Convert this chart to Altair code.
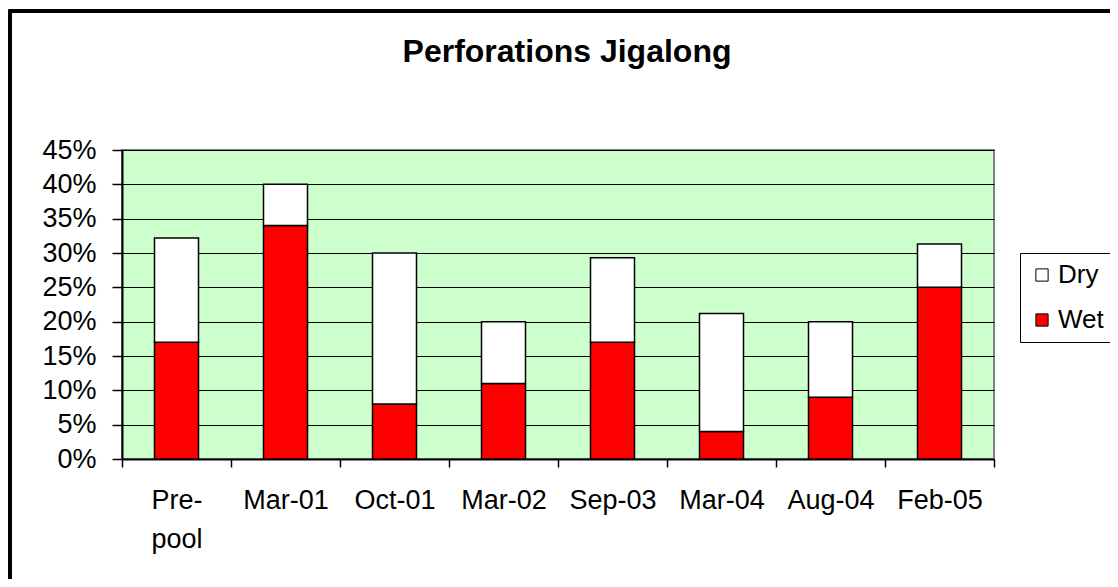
import altair as alt
import pandas as pd

categories = ["Pre-pool", "Mar-01", "Oct-01", "Mar-02", "Sep-03", "Mar-04", "Aug-04", "Feb-05"]
wet = [17, 34, 8, 11, 17, 4, 9, 25]
dry = [15.2, 6, 22, 9, 12.3, 17.2, 11, 6.3]
y_ticks = [0, 5, 10, 15, 20, 25, 30, 35, 40, 45]

rows = []
for c, w, d in zip(categories, wet, dry):
    rows.append({"cat": c, "series": "Wet", "value": w, "ord": 0})
    rows.append({"cat": c, "series": "Dry", "value": d, "ord": 1})
df = pd.DataFrame(rows)

FONT = "Liberation Sans"

bars = alt.Chart(df).mark_bar(size=44, stroke="black", strokeWidth=1.5).encode(
    x=alt.X("cat:N", sort=categories, title=None,
            scale=alt.Scale(paddingInner=0, paddingOuter=0),
            axis=alt.Axis(labelAngle=0, labelFontSize=27, labelFont=FONT, labelColor="black",
                          tickBand="extent", tickSize=8, tickColor="black", tickWidth=1.5,
                          domainColor="black", domainWidth=2, labelPadding=20,
                          labelLineHeight=39, labelBaseline="top",
                          labelExpr="datum.value == 'Pre-pool' ? ['Pre-', 'pool'] : datum.value")),
    y=alt.Y("value:Q", stack="zero", title=None,
            scale=alt.Scale(domain=[0, 45], nice=False),
            axis=alt.Axis(values=y_ticks, labelExpr="datum.value + '%'", labelFontSize=27,
                          labelFont=FONT, labelColor="black", tickSize=10, tickColor="black",
                          tickWidth=1.5, domainColor="black", domainWidth=2, labelPadding=16,
                          grid=True, gridColor="black", gridWidth=1.2, gridOpacity=1)),
    color=alt.Color("series:N", scale=alt.Scale(domain=["Dry", "Wet"], range=["#FFFFFF", "#FF0000"]),
                    legend=alt.Legend(title=None, orient="none", legendX=898, legendY=103,
                                      strokeColor="black", fillColor="white", padding=9,
                                      labelFontSize=26, labelFont=FONT, labelColor="black",
                                      symbolType="square", symbolSize=150, symbolStrokeColor="black",
                                      symbolStrokeWidth=1, rowPadding=19, labelOffset=3)),
    order=alt.Order("ord:Q"),
)

frame = alt.Chart(df).mark_rect(fill=None, stroke="black", strokeWidth=2.5, clip=False).encode(
    x=alt.value(-112), x2=alt.value(1200), y=alt.value(-139), y2=alt.value(600)
)

chart = alt.layer(frame, bars).properties(
    width=872, height=309,
    title=alt.TitleParams("Perforations Jigalong", fontSize=32, font=FONT, fontWeight="bold",
                          color="black", anchor="middle", baseline="alphabetic", offset=-84, dx=9,
                          frame="group"),
    autosize=alt.AutoSizeParams(type="none"),
    padding={"left": 114, "top": 142, "right": 116, "bottom": 120},
    background="white",
).configure_view(fill="#CCFFCC", stroke="#808080", strokeWidth=2)

chart.save("out.html", embed_options={"renderer": "svg", "actions": False})
